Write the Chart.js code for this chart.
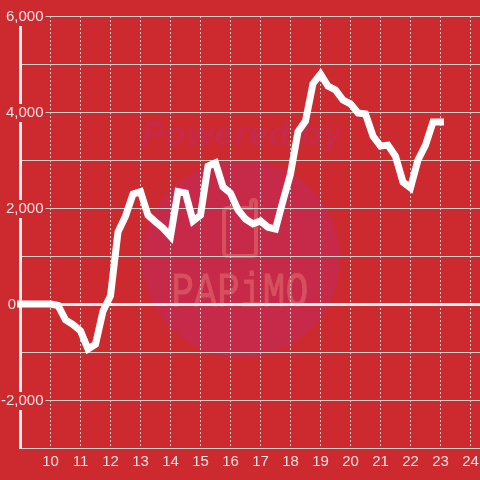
<!DOCTYPE html>
<html>
<head>
<meta charset="utf-8">
<style>
  html, body { margin: 0; padding: 0; background: #cc2a2e; }
  canvas { display: block; }
</style>
<script src="https://cdn.jsdelivr.net/npm/chart.js@4/dist/chart.umd.js"></script>
</head>
<body>
<canvas id="chart" width="480" height="480"></canvas>
<script>
const hours = [
  9, 9.25, 9.5, 9.75, 10, 10.25, 10.5, 10.75, 11, 11.25, 11.5, 11.75,
  12, 12.25, 12.5, 12.75, 13, 13.25, 13.5, 13.75, 14, 14.25, 14.5, 14.75,
  15, 15.25, 15.5, 15.75, 16, 16.25, 16.5, 16.75, 17, 17.25, 17.5, 17.75,
  18, 18.25, 18.5, 18.75, 19, 19.25, 19.5, 19.75, 20, 20.25, 20.5, 20.75,
  21, 21.25, 21.5, 21.75, 22, 22.25, 22.5, 22.75, 23
];
const values = [
  0, 0, 0, 0, 0, -30, -330, -430, -560, -940, -840, -150,
  170, 1500, 1830, 2290, 2340, 1850, 1710, 1580, 1410, 2340, 2310, 1730,
  1850, 2870, 2940, 2440, 2310, 1960, 1770, 1670, 1730, 1600, 1560, 2150,
  2710, 3590, 3810, 4590, 4790, 4540, 4460, 4250, 4170, 3980, 3960, 3500,
  3290, 3310, 3080, 2540, 2420, 3000, 3310, 3790, 3790
];
const yTickLabels = [6000, 4000, 2000, -2000];
const xHiddenTick = 9;

const red = "#cc2a2e";
const tickColor = "#f6e3e3";
const gridColor = "#c9d2cb";
const axisWhite = "#f2f0f0";

// background watermark, sits under the grid
const watermark = {
  id: "watermark",
  beforeDraw(chart) {
    const c = chart.ctx;
    c.save();
    c.fillStyle = "#c72949";
    c.beginPath();
    c.arc(241, 259, 99, 0, Math.PI * 2);
    c.fill();

    c.font = "italic bold 34px 'Liberation Sans'";
    c.letterSpacing = "1px";
    c.textAlign = "center";
    c.textBaseline = "alphabetic";
    c.fillText("Powered by", 242, 145);
    c.letterSpacing = "0px";

    c.strokeStyle = "#d6505f";
    c.lineWidth = 4;
    c.beginPath();
    c.moveTo(224, 212);
    c.quadraticCurveTo(224, 208, 228, 208);
    c.lineTo(251, 208);
    c.lineTo(251, 203);
    c.quadraticCurveTo(251, 200, 253.5, 200);
    c.quadraticCurveTo(256, 200, 256, 203);
    c.lineTo(256, 252);
    c.quadraticCurveTo(256, 256, 252, 256);
    c.lineTo(228, 256);
    c.quadraticCurveTo(224, 256, 224, 252);
    c.closePath();
    c.stroke();

    c.fillStyle = "#d6505f";
    c.lineWidth = 1;
    c.translate(240, 306);
    c.scale(0.78, 1);
    c.font = "48px 'Liberation Mono'";
    c.letterSpacing = "0.5px";
    c.fillText("PAPiMO", 0, 0);
    c.strokeText("PAPiMO", 0, 0);
    c.restore();
  }
};

// the 0 label sits tight against the axis, unlike the others
const zeroLabel = {
  id: "zeroLabel",
  afterDraw(chart) {
    const c = chart.ctx;
    c.save();
    c.font = "15px 'Liberation Sans'";
    c.fillStyle = tickColor;
    c.textAlign = "right";
    c.textBaseline = "middle";
    c.fillText("0", 16, chart.scales.y.getPixelForValue(0) + 1);
    c.restore();
  }
};

new Chart(document.getElementById("chart"), {
  type: "line",
  data: {
    datasets: [{
      data: hours.map((h, i) => ({ x: h, y: values[i] })),
      borderColor: "#ffffff",
      borderWidth: 7,
      borderCapStyle: "square",
      pointRadius: 0,
      tension: 0,
      clip: false
    }]
  },
  plugins: [watermark, zeroLabel],
  options: {
    responsive: false,
    animation: false,
    parsing: false,
    layout: { autoPadding: false, padding: { top: 16 } },
    plugins: { legend: { display: false }, tooltip: { enabled: false } },
    scales: {
      x: {
        type: "linear",
        min: 9,
        max: 24.317,
        afterFit: s => { s.height = 32; s.paddingLeft = 0; s.paddingRight = 0; },
        grid: { color: gridColor, drawTicks: false, lineWidth: 1 },
        border: { color: gridColor, width: 1, dash: [2, 2] },
        ticks: {
          stepSize: 1,
          includeBounds: false,
          autoSkip: false,
          maxRotation: 0,
          padding: 5,
          color: tickColor,
          font: { family: "'Liberation Sans'", size: 15 },
          callback: v => (v === xHiddenTick ? "" : String(v))
        }
      },
      y: {
        type: "linear",
        min: -3000,
        max: 6000,
        afterFit: s => { s.width = 20.5; s.paddingTop = 0; s.paddingBottom = 0; },
        grid: {
          drawTicks: false,
          color: c => (c.tick.value === 0 ? axisWhite : gridColor),
          lineWidth: c => (c.tick.value === 0 ? 3 : 1)
        },
        border: { color: axisWhite, width: 3 },
        ticks: {
          stepSize: 1000,
          autoSkip: false,
          mirror: true,
          crossAlign: "far",
          padding: -19.5,
          labelOffset: 1,
          color: tickColor,
          font: { family: "'Liberation Sans'", size: 15 },
          showLabelBackdrop: true,
          backdropColor: c => (yTickLabels.includes(c.tick.value) ? red : "transparent"),
          backdropPadding: { top: 0, bottom: 0, left: 8, right: 2 },
          callback: v => (yTickLabels.includes(v) ? v.toLocaleString("en-US") : "")
        }
      }
    }
  }
});
</script>
</body>
</html>
